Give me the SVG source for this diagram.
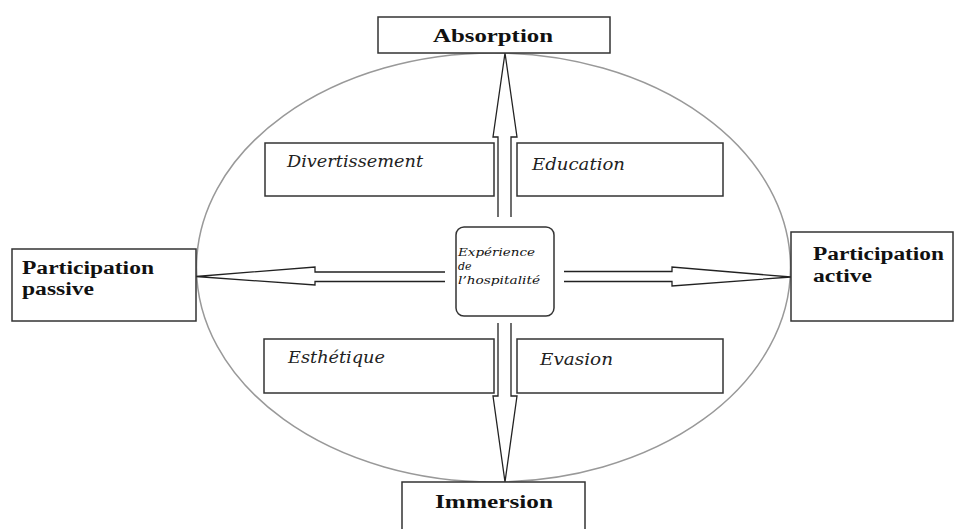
<svg xmlns="http://www.w3.org/2000/svg" width="961" height="529" viewBox="0 0 961 529">
<style>
.box{fill:#fff;stroke:#333;stroke-width:1.5}
.arr{fill:#fff;stroke:#222;stroke-width:1.3;stroke-linejoin:miter}
.b{font-family:"Liberation Serif",serif;font-weight:bold;font-size:18px;fill:#111}
.i{font-family:"DejaVu Serif","Liberation Serif",serif;font-style:italic;font-size:16px;fill:#222}
.s{font-family:"DejaVu Serif","Liberation Serif",serif;font-style:italic;font-size:11px;fill:#111}
</style>
<rect width="961" height="529" fill="#fff"/>
<ellipse cx="493.5" cy="267.5" rx="297" ry="214.5" fill="none" stroke="#999" stroke-width="1.5"/>
<g id="connectors">
<path class="arr" d="M498,217 V137 H493 L505,53 L517,137 H511 V217"/>
<path class="arr" d="M498,323 V396 H493 L505,482 L517,396 H511 V323"/>
<path class="arr" d="M445,272 H315 V267 L196,276.5 L315,285 V281.5 H445"/>
<path class="arr" d="M564,271.5 H672 V267 L791,277 L672,286 V281.5 H564"/>
</g>
<g id="absorption">
<rect class="box" x="378" y="17" width="232" height="36"/>
<text class="b" x="433" y="42" textLength="120" lengthAdjust="spacingAndGlyphs">Absorption</text>
</g>
<g id="immersion">
<rect class="box" x="402" y="482" width="183" height="60"/>
<text class="b" x="435" y="508" textLength="118" lengthAdjust="spacingAndGlyphs">Immersion</text>
</g>
<g id="passive">
<rect class="box" x="12" y="249" width="184" height="72"/>
<text class="b" x="22" y="274" textLength="132" lengthAdjust="spacingAndGlyphs">Participation</text>
<text class="b" x="22" y="295" textLength="72" lengthAdjust="spacingAndGlyphs">passive</text>
</g>
<g id="active">
<rect class="box" x="791" y="232" width="162" height="89"/>
<text class="b" x="813" y="260" textLength="131" lengthAdjust="spacingAndGlyphs">Participation</text>
<text class="b" x="813" y="282" textLength="59" lengthAdjust="spacingAndGlyphs">active</text>
</g>
<g id="divertissement">
<rect class="box" x="265" y="143" width="229" height="53"/>
<text class="i" x="287" y="167" textLength="136" lengthAdjust="spacingAndGlyphs">Divertissement</text>
</g>
<g id="education">
<rect class="box" x="517" y="143" width="206" height="53"/>
<text class="i" x="532" y="170" textLength="93" lengthAdjust="spacingAndGlyphs">Education</text>
</g>
<g id="esthetique">
<rect class="box" x="264" y="339" width="230" height="54"/>
<text class="i" x="288" y="363" textLength="97" lengthAdjust="spacingAndGlyphs">Esthétique</text>
</g>
<g id="evasion">
<rect class="box" x="517" y="339" width="206" height="54"/>
<text class="i" x="540" y="365" textLength="73" lengthAdjust="spacingAndGlyphs">Evasion</text>
</g>
<g id="center">
<rect class="box" x="456" y="227" width="98" height="89" rx="8" ry="8"/>
<text class="s" x="458" y="256" textLength="77" lengthAdjust="spacingAndGlyphs">Expérience</text>
<text class="s" x="458" y="270">de</text>
<text class="s" x="458" y="284" textLength="82" lengthAdjust="spacingAndGlyphs">l’hospitalité</text>
</g>
</svg>
